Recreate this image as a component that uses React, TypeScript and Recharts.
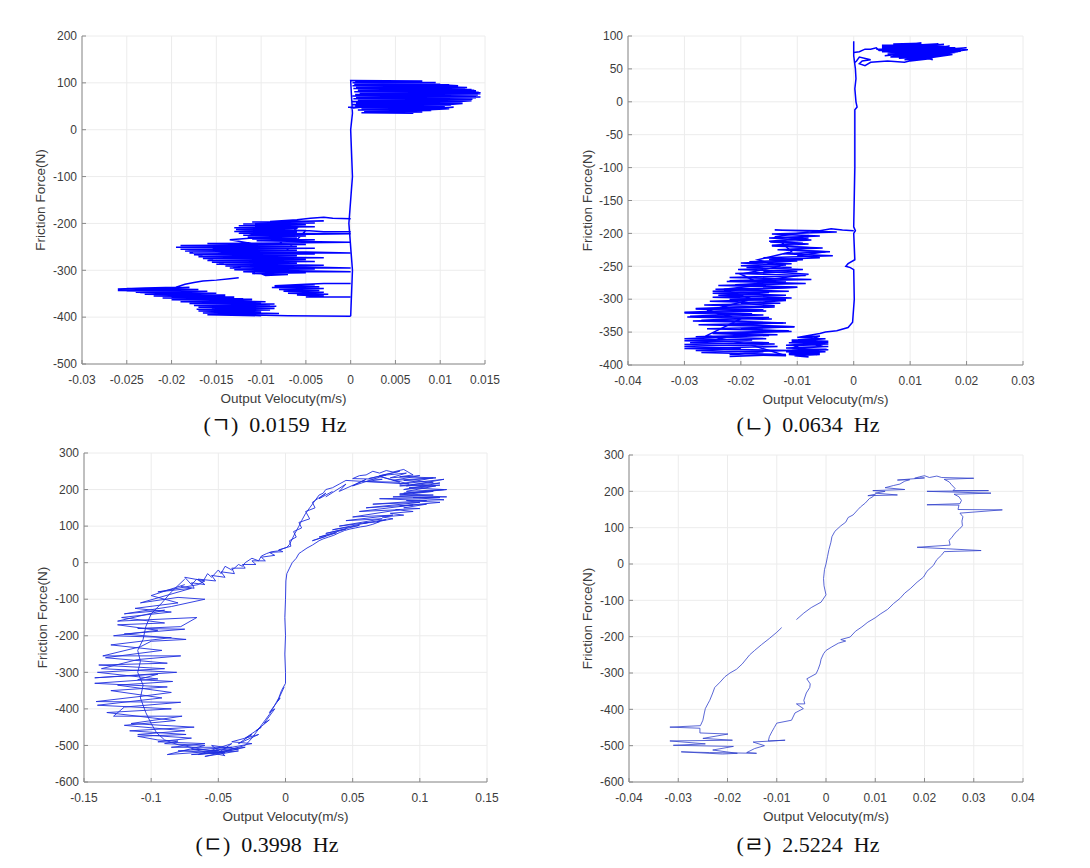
import { ScatterChart, Scatter, XAxis, YAxis, CartesianGrid } from 'recharts';

type Pt = [number, number];

// (ㄱ) 0.0159 Hz
const ticksXA = [-0.03, -0.025, -0.02, -0.015, -0.01, -0.005, 0, 0.005, 0.01, 0.015];
const ticksYA = [-500, -400, -300, -200, -100, 0, 100, 200];
const flagA: Pt[] = [
  [0, -398], [0.0002, -300], [-0.0002, -200], [0.0002, -100], [0, 0], [0.0002, 35], [0, 105],
  [0.008, 104], [0.0005, 103], [0.0095, 101], [0.0002, 100], [0.007, 99], [0.0004, 97], [0.011, 96],
  [0.0002, 94], [0.012, 92], [0.0006, 91], [0.0128, 89], [0.0003, 88], [0.0135, 86], [0.0008, 84],
  [0.014, 83], [0.0004, 81], [0.0143, 80], [0.001, 78], [0.0145, 77], [0.0005, 75], [0.0142, 74],
  [0.0002, 72], [0.0145, 70], [0.0006, 69], [0.014, 68], [0.0003, 66], [0.0136, 65], [0.0008, 63],
  [0.013, 62], [0.0002, 60], [0.0125, 59], [0.0006, 57], [0.0118, 56], [0.0001, 54], [0.0112, 53],
  [0.0005, 51], [0.0105, 50], [-0.0003, 48], [0.01, 47], [0.0012, 45], [0.0095, 44], [0.0008, 42],
  [0.009, 41], [0.0015, 39], [0.008, 38], [0.0012, 36], [0.007, 35], [0.002, 37], [0.0115, 48],
  [0.003, 42], [0.0125, 56], [0.004, 50], [0.0135, 62], [0.0045, 58], [0.014, 72], [0.005, 66],
  [0.0145, 79], [0.0055, 75], [0.0138, 84], [0.005, 88], [0.013, 90], [0.0045, 95], [0.012, 94],
  [0.006, 100], [0.01, 97], [0.005, 92], [0.0128, 80], [0.006, 70], [0.0133, 70], [0.0065, 60],
  [0.012, 64], [0.007, 52], [0.011, 45], [0.006, 40], [0.0115, 66], [0.0075, 82], [0.0125, 76],
  [0.008, 88], [0.0105, 86], [0.0085, 72], [0.0135, 77], [0.009, 62], [0.0125, 70], [0, 45],
];
const upperBandA: Pt[] = [
  [0, -190], [-0.002, -189], [-0.003, -187], [-0.0045, -189], [-0.006, -192], [-0.009, -196],
  [-0.003, -195], [-0.011, -197], [-0.004, -199], [-0.012, -201], [-0.005, -203], [-0.0125, -205],
  [-0.004, -207], [-0.013, -209], [-0.006, -211], [-0.0128, -213], [-0.005, -215], [-0.013, -217],
  [-0.006, -219], [-0.0125, -221], [0, -222], [-0.012, -225], [-0.005, -227], [-0.0115, -229],
  [-0.006, -231], [-0.011, -233], [-0.004, -235], [-0.0105, -237], [0, -240], [-0.008, -242],
  [-0.016, -243], [-0.005, -245], [-0.019, -247], [-0.006, -249], [-0.0195, -251], [-0.004, -253],
  [-0.019, -255], [-0.006, -257], [-0.0185, -259], [-0.005, -261], [0, -263], [-0.018, -263],
  [-0.004, -265], [-0.0175, -267], [-0.006, -269], [-0.017, -271], [-0.003, -273], [-0.0165, -275],
  [-0.005, -277], [-0.016, -279], [-0.004, -281], [-0.0155, -283], [-0.006, -285], [-0.015, -287],
  [-0.003, -289], [-0.014, -291], [-0.005, -293], [0, -295], [-0.0135, -295], [-0.004, -297],
  [-0.013, -299], [-0.006, -301], [0, -303], [-0.012, -303], [-0.005, -305], [-0.011, -307],
  [-0.007, -309], [-0.0095, -311], [-0.011, -300], [-0.014, -288], [-0.017, -268], [-0.0185, -256],
  [-0.012, -262], [-0.016, -250], [-0.01, -246], [-0.0135, -235], [-0.009, -228], [-0.0125, -218],
  [-0.008, -216], [-0.01, -206], [-0.006, -210], [-0.0105, -285], [-0.007, -290], [-0.0115, -278],
  [-0.008, -282], [-0.0125, -270], [-0.009, -275], [-0.0135, -262], [-0.0105, -268], [-0.011, -296],
  [-0.0095, -304], [-0.005, -215], [-0.003, -218], [0, -218],
];
const lowerBandA: Pt[] = [
  [-0.0125, -316], [-0.0135, -318], [-0.015, -321], [-0.0165, -323], [-0.0175, -326],
  [-0.0185, -330], [-0.0195, -336], [-0.023, -338], [-0.026, -340], [-0.018, -337], [-0.025, -339],
  [-0.017, -341], [-0.026, -343], [-0.016, -345], [-0.024, -347], [-0.015, -349], [-0.023, -351],
  [-0.014, -353], [-0.022, -355], [-0.013, -357], [-0.021, -359], [-0.012, -361], [-0.02, -363],
  [-0.011, -365], [-0.019, -367], [-0.01, -369], [-0.018, -371], [-0.009, -373], [-0.0175, -375],
  [-0.0085, -377], [-0.017, -379], [-0.0085, -381], [-0.0172, -383], [-0.009, -385], [-0.017, -387],
  [-0.01, -389], [-0.0165, -391], [-0.009, -393], [-0.016, -395], [-0.01, -397], [-0.02, -342],
  [-0.025, -344], [-0.018, -345], [-0.0235, -348], [-0.016, -350], [-0.022, -352], [-0.014, -354],
  [-0.02, -356], [-0.013, -358], [-0.018, -360], [-0.011, -362], [-0.017, -365], [-0.0095, -367],
  [-0.0165, -370], [-0.0085, -372], [-0.016, -375], [-0.0083, -377], [-0.0155, -380], [-0.0085, -382],
  [-0.017, -384], [-0.01, -386], [-0.0165, -389], [-0.008, -392], [-0.015, -394], [-0.007, -397],
  [0, -398],
];
const blobA: Pt[] = [
  [0, -328], [-0.003, -328], [-0.005, -330], [-0.0085, -333], [-0.004, -331], [-0.0085, -334],
  [-0.0035, -335], [-0.0088, -337], [-0.003, -339], [-0.008, -341], [-0.0035, -343], [-0.0075, -345],
  [-0.003, -347], [-0.007, -349], [-0.0025, -351], [-0.006, -353], [-0.003, -355], [-0.005, -357],
  [0, -357],
];

// (ㄴ) 0.0634 Hz
const ticksXB = [-0.04, -0.03, -0.02, -0.01, 0, 0.01, 0.02, 0.03];
const ticksYB = [-400, -350, -300, -250, -200, -150, -100, -50, 0, 50, 100];
const spineB: Pt[] = [
  [0, 92], [0, 70], [0.0003, 50], [0.0004, 35], [0.0002, 20], [0.0004, 0], [0.0006, -8],
  [0.0002, -12], [0.0002, -100], [0, -190], [0.0003, -196], [0, -200], [0.0002, -240],
  [-0.001, -246], [-0.0014, -250], [-0.0006, -252], [0, -255], [0.0001, -300], [-0.0002, -335],
  [-0.001, -343], [-0.003, -348], [-0.005, -350], [-0.006, -352], [-0.01, -358], [-0.005, -360],
  [-0.011, -364], [-0.0045, -366], [-0.012, -370], [-0.0048, -372], [-0.011, -375], [-0.0045, -377],
  [-0.012, -380], [-0.006, -382], [-0.0115, -384], [-0.008, -386], [-0.01, -378], [-0.0055, -369],
  [-0.0095, -362], [-0.0065, -385], [-0.0105, -371], [-0.006, -356], [-0.01, -358], [-0.005, -360],
  [-0.011, -362], [-0.0045, -364], [-0.0115, -366], [-0.0045, -368], [-0.012, -370], [-0.0045, -372],
  [-0.012, -374], [-0.0048, -376], [-0.0118, -378], [-0.005, -380], [-0.0115, -382], [-0.006, -384],
  [-0.0105, -386], [-0.008, -388],
];
const topB: Pt[] = [
  [0, 75], [0.001, 76], [0.002, 80], [0.003, 80], [0.004, 82], [0.0045, 78], [0.012, 86],
  [0.005, 84], [0.015, 88], [0.006, 72], [0.017, 85], [0.0055, 70], [0.02, 82], [0.007, 74],
  [0.0202, 79], [0.008, 66], [0.0185, 76], [0.006, 76], [0.016, 70], [0.007, 82], [0.014, 64],
  [0.009, 86], [0.0175, 74], [0.008, 68], [0.015, 80], [0.01, 62], [0.013, 84], [0.006, 80],
  [0.004, 80], [0.016, 87], [0.005, 86], [0.017, 84], [0.005, 82], [0.018, 82], [0.0045, 78],
  [0.019, 80], [0.005, 76], [0.0202, 79], [0.006, 74], [0.019, 77], [0.006, 72], [0.018, 75],
  [0.007, 70], [0.017, 73], [0.007, 68], [0.016, 71], [0.008, 66], [0.015, 69], [0.009, 64],
  [0.014, 67], [0.01, 62], [0.013, 65], [0.008, 85], [0.015, 86], [0.007, 88], [0.012, 89],
  [0.006, 84], [0.017, 81], [0.0055, 79], [0.0185, 78], [0.006, 75], [0.0175, 72],
  [0.012, 65], [0.0075, 78], [0.016, 82], [0.0065, 68], [0.0145, 72], [0.009, 60], [0.006, 62],
  [0.003, 60], [0.002, 55], [0.001, 58], [0.0015, 62], [0.003, 64], [0.001, 68], [0.0005, 62],
  [0.0002, 60],
];
const bandB: Pt[] = [
  [0, -196], [-0.002, -195], [-0.004, -193], [-0.006, -196], [-0.014, -195], [-0.003, -198],
  [-0.0145, -201], [-0.006, -204], [-0.015, -207], [-0.0075, -210], [-0.0148, -213], [-0.008, -216],
  [-0.0145, -219], [-0.0055, -222], [-0.0135, -225], [-0.0042, -228], [-0.0125, -231], [-0.0037, -234],
  [-0.016, -237], [-0.009, -240], [-0.0185, -243], [-0.011, -246], [-0.02, -249], [-0.011, -252],
  [-0.0205, -255], [-0.01, -258], [-0.021, -261], [-0.0085, -264], [-0.022, -267], [-0.0075, -270],
  [-0.0225, -273], [-0.0085, -276], [-0.024, -279], [-0.01, -282], [-0.0245, -285], [-0.0115, -288],
  [-0.025, -291], [-0.012, -294], [-0.025, -297], [-0.012, -300], [-0.0255, -303], [-0.013, -306],
  [-0.0265, -309], [-0.014, -312], [-0.028, -315], [-0.0155, -318], [-0.03, -321], [-0.016, -324],
  [-0.0295, -327], [-0.0145, -330], [-0.0285, -333], [-0.0125, -336], [-0.0275, -339], [-0.0105, -342],
  [-0.026, -345], [-0.0115, -348], [-0.025, -351], [-0.0135, -354], [-0.028, -357], [-0.0155, -360],
  [-0.03, -363], [-0.015, -366], [-0.03, -369], [-0.0135, -372], [-0.03, -375], [-0.011, -378],
  [-0.027, -381], [-0.012, -384], [-0.022, -387],
];
const crossB: Pt[] = [
  [-0.008, -198], [-0.014, -205], [-0.008, -207], [-0.015, -212], [-0.009, -215], [-0.0145, -218],
  [-0.007, -222], [-0.012, -225], [-0.005, -228], [-0.01, -234], [-0.006, -237], [-0.015, -240],
  [-0.01, -242], [-0.02, -245], [-0.012, -248], [-0.019, -252], [-0.009, -255], [-0.016, -258],
  [-0.008, -262], [-0.015, -270], [-0.022, -272], [-0.012, -274], [-0.021, -278], [-0.01, -282],
  [-0.025, -288], [-0.015, -290], [-0.024, -294], [-0.011, -298], [-0.022, -300], [-0.012, -302],
  [-0.02, -306], [-0.014, -310], [-0.028, -314], [-0.016, -316], [-0.03, -320], [-0.018, -322],
  [-0.029, -326], [-0.015, -328], [-0.027, -332], [-0.012, -336], [-0.022, -338], [-0.0105, -342],
  [-0.02, -345], [-0.011, -349], [-0.025, -352], [-0.015, -355], [-0.03, -360], [-0.018, -362],
  [-0.029, -366], [-0.014, -368], [-0.03, -372], [-0.02, -375], [-0.028, -378], [-0.016, -380],
  [-0.022, -384], [-0.012, -386], [-0.018, -370], [-0.026, -355], [-0.02, -330], [-0.026, -318],
  [-0.018, -300], [-0.023, -285], [-0.016, -278], [-0.02, -262], [-0.013, -250], [-0.017, -240],
  [-0.011, -228], [-0.013, -212], [-0.008, -203],
];

// (ㄷ) 0.3998 Hz
const ticksXC = [-0.15, -0.1, -0.05, 0, 0.05, 0.1, 0.15];
const ticksYC = [-600, -500, -400, -300, -200, -100, 0, 100, 200, 300];
const loopC: Pt[] = [
  [0, -330], [0, -300], [-0.0005, -250], [0, -200], [-0.0005, -150], [0, -100], [0.0003, -50],
  [0.001, -30], [0.003, -15], [0.005, 0], [0.008, 12], [0.01, 25], [0.012, 30], [0.016, 40],
  [0.02, 48], [0.025, 60], [0.028, 65], [0.032, 70], [0.036, 75], [0.04, 82], [0.044, 88],
  [0.048, 92], [0.052, 95], [0.056, 98], [0.06, 100], [0.065, 105], [0.07, 112], [0.058, 108],
  [0.075, 118], [0.068, 112], [0.08, 120], [0.072, 125], [0.088, 130], [0.078, 135], [0.095, 140],
  [0.082, 145], [0.1, 148], [0.088, 150], [0.105, 160], [0.085, 155], [0.115, 165], [0.09, 170],
  [0.118, 172], [0.095, 178], [0.12, 180], [0.085, 185], [0.11, 195], [0.088, 190], [0.118, 200],
  [0.092, 205], [0.115, 212], [0.085, 210], [0.11, 220], [0.088, 225], [0.112, 232], [0.085, 235],
  [0.095, 240], [0.088, 255], [0.08, 248], [0.075, 252], [0.07, 245], [0.065, 250], [0.06, 240],
  [0.055, 238], [0.05, 230], [0.072, 228], [0.06, 222], [0.085, 220], [0.07, 236], [0.092, 215],
  [0.045, 225], [0.04, 215], [0.035, 205], [0.03, 200], [0.028, 190], [0.025, 185], [0.022, 170],
  [0.02, 160], [0.018, 150], [0.015, 135], [0.012, 115], [0.01, 100], [0.007, 80], [0.005, 65],
  [0.003, 50], [0.001, 42], [-0.002, 38], [-0.006, 32], [-0.01, 30], [-0.014, 25], [-0.018, 18],
  [-0.02, 5], [-0.025, 12], [-0.03, 0], [-0.032, -10], [-0.035, -5], [-0.038, -15], [-0.04, -20],
  [-0.045, -10], [-0.048, -30], [-0.05, -20], [-0.055, -40], [-0.058, -30], [-0.062, -55],
  [-0.066, -45], [-0.07, -60], [-0.075, -40], [-0.06, -50], [-0.065, -60], [-0.095, -80],
  [-0.07, -70], [-0.108, -110], [-0.08, -95], [-0.06, -100], [-0.085, -120], [-0.12, -140],
  [-0.09, -130], [-0.125, -160], [-0.066, -150], [-0.078, -175], [-0.11, -180], [-0.075, -182],
  [-0.12, -195], [-0.074, -210], [-0.1, -215], [-0.108, -230], [-0.136, -255], [-0.078, -255],
  [-0.11, -265], [-0.137, -290], [-0.081, -300], [-0.142, -315], [-0.095, -305], [-0.11, -320],
  [-0.084, -325], [-0.125, -335], [-0.085, -355], [-0.106, -365], [-0.141, -380], [-0.078, -382],
  [-0.12, -395], [-0.128, -420], [-0.077, -420], [-0.115, -440], [-0.068, -450], [-0.116, -460],
  [-0.074, -470], [-0.11, -475], [-0.095, -485], [-0.08, -488], [-0.09, -495], [-0.06, -500],
  [-0.088, -525], [-0.05, -515], [-0.07, -510], [-0.045, -528], [-0.055, -500], [-0.035, -510],
  [-0.065, -525], [-0.04, -495], [-0.05, -520], [-0.03, -500], [-0.025, -480], [-0.02, -455],
  [-0.015, -430], [-0.012, -415], [-0.008, -390], [-0.005, -370], [-0.003, -350], [0, -330],
];
const innerC: Pt[] = [
  [-0.075, -45], [-0.085, -80], [-0.092, -110], [-0.1, -140], [-0.104, -175], [-0.106, -210],
  [-0.11, -240], [-0.108, -270], [-0.11, -300], [-0.106, -335], [-0.108, -370], [-0.104, -410],
  [-0.1, -440], [-0.096, -465], [-0.09, -485], [-0.08, -498], [-0.07, -505], [-0.06, -512],
  [-0.05, -518], [-0.04, -512],
];
const fuzzTopC: Pt[] = [
  [0.03, 180], [0.045, 215], [0.04, 195], [0.06, 228], [0.05, 210], [0.075, 240], [0.062, 230],
  [0.085, 250], [0.07, 238], [0.09, 245], [0.078, 232], [0.1, 238], [0.08, 225], [0.11, 232],
  [0.085, 215], [0.118, 228], [0.09, 210], [0.115, 218], [0.088, 200], [0.112, 210], [0.09, 195],
  [0.12, 200], [0.085, 188], [0.11, 185], [0.08, 180], [0.115, 178], [0.07, 175], [0.105, 170],
  [0.065, 160], [0.1, 165], [0.06, 150], [0.095, 158], [0.055, 140], [0.085, 145], [0.05, 125],
  [0.08, 130], [0.045, 115], [0.072, 120], [0.04, 100], [0.062, 110], [0.035, 90], [0.055, 102],
  [0.03, 80], [0.045, 92], [0.025, 70], [0.038, 82], [0.02, 60], [0.03, 72],
];
const fuzzUpperC: Pt[] = [
  [0.035, 195], [0.025, 175], [0.03, 190], [0.02, 165], [0.022, 150], [0.015, 140], [0.018, 120],
  [0.01, 110], [0.012, 95], [0.006, 85], [0.008, 70], [0.003, 60], [0.004, 45], [-0.005, 35],
  [-0.002, 30], [-0.012, 28], [-0.008, 20], [-0.018, 15], [-0.015, 5], [-0.025, 5], [-0.022, -5],
  [-0.032, -5], [-0.03, -15], [-0.04, -15], [-0.038, -30], [-0.048, -25], [-0.045, -40],
  [-0.055, -35], [-0.052, -50], [-0.065, -45], [-0.06, -60], [-0.07, -55], [-0.068, -70],
  [-0.078, -65],
];
const fuzzLeftC: Pt[] = [
  [-0.075, -60], [-0.1, -90], [-0.08, -110], [-0.112, -125], [-0.085, -135], [-0.122, -150],
  [-0.09, -165], [-0.125, -170], [-0.095, -185], [-0.128, -200], [-0.085, -205], [-0.13, -225],
  [-0.092, -240], [-0.134, -260], [-0.088, -275], [-0.139, -280], [-0.09, -290], [-0.14, -300],
  [-0.095, -318], [-0.142, -330], [-0.088, -340], [-0.13, -350], [-0.092, -370], [-0.14, -390],
  [-0.085, -400], [-0.133, -410], [-0.082, -432], [-0.12, -445], [-0.075, -460], [-0.11, -470],
  [-0.07, -480], [-0.095, -490], [-0.06, -495], [-0.085, -505], [-0.04, -505], [-0.08, -515],
  [-0.045, -520], [-0.07, -525], [-0.035, -515], [-0.06, -530], [-0.03, -505], [-0.055, -515],
  [-0.025, -495], [-0.04, -490], [-0.02, -470], [-0.035, -495], [-0.025, -470], [-0.03, -480],
  [-0.018, -450], [-0.022, -460], [-0.012, -430], [-0.016, -440], [-0.008, -400], [-0.012, -410],
  [-0.004, -370], [-0.006, -380], [-0.001, -340],
];

// (ㄹ) 2.5224 Hz
const ticksXD = [-0.04, -0.03, -0.02, -0.01, 0, 0.01, 0.02, 0.03, 0.04];
const ticksYD = [-600, -500, -400, -300, -200, -100, 0, 100, 200, 300];
const loopD: Pt[] = [
  [-0.006, -153], [-0.0045, -135], [-0.003, -120], [-0.001, -105], [0, -85], [-0.0004, -60],
  [-0.0005, -40], [-0.0003, -15], [0, 0], [0.0003, 20], [0.0006, 40], [0.001, 60], [0.0012, 75],
  [0.0018, 90], [0.003, 105], [0.004, 115], [0.0045, 128], [0.0055, 135], [0.0065, 150],
  [0.007, 157], [0.008, 168], [0.0088, 180], [0.0095, 185], [0.01, 192], [0.0085, 188],
  [0.0145, 190], [0.01, 195], [0.012, 200], [0.0095, 202], [0.016, 205], [0.012, 210],
  [0.0137, 216], [0.015, 220], [0.016, 228], [0.017, 232], [0.0145, 231], [0.02, 237], [0.018, 236],
  [0.019, 240], [0.02, 243], [0.021, 238], [0.0225, 242], [0.0235, 238], [0.03, 236], [0.024, 233],
  [0.025, 226], [0.0255, 218], [0.0262, 208], [0.0258, 202], [0.033, 202], [0.0205, 200],
  [0.0335, 195], [0.026, 192], [0.027, 185], [0.0275, 175], [0.0272, 166], [0.0205, 163],
  [0.027, 162], [0.0268, 150], [0.0358, 149], [0.0272, 140], [0.0278, 130], [0.0276, 118],
  [0.0277, 105], [0.027, 95], [0.0262, 85], [0.0256, 74], [0.025, 65], [0.0252, 52], [0.0185, 46],
  [0.0245, 42], [0.0315, 37], [0.024, 34], [0.0235, 25], [0.0225, 12], [0.0218, -4], [0.0205, -20],
  [0.0198, -36], [0.0185, -50], [0.0171, -68], [0.016, -80], [0.015, -95], [0.0137, -109],
  [0.0125, -125], [0.011, -138], [0.01, -148], [0.0085, -160], [0.0073, -173], [0.006, -185],
  [0.0049, -201], [0.003, -208], [0.004, -212], [0.0025, -218], [0.0012, -228], [0, -238],
  [-0.0005, -247], [-0.001, -262], [-0.0012, -275], [-0.0016, -290], [-0.002, -302],
  [-0.0039, -316], [-0.0032, -330], [-0.0033, -340], [-0.004, -355], [-0.0045, -375],
  [-0.0043, -385], [-0.006, -385], [-0.0046, -398], [-0.0063, -410], [-0.007, -430], [-0.01, -438],
  [-0.0105, -450], [-0.011, -462], [-0.0115, -475], [-0.0117, -487], [-0.0083, -485], [-0.0148, -490],
  [-0.0125, -500], [-0.0145, -508], [-0.0161, -519], [-0.0141, -521], [-0.0236, -519], [-0.0294, -517],
  [-0.021, -523], [-0.018, -521], [-0.023, -512], [-0.0188, -502], [-0.031, -499], [-0.0245, -495],
  [-0.0317, -487], [-0.019, -485], [-0.025, -480], [-0.0199, -468], [-0.0256, -465], [-0.0256, -452],
  [-0.0317, -449], [-0.0255, -445], [-0.025, -430], [-0.0247, -410], [-0.0245, -398], [-0.024, -385],
  [-0.0236, -375], [-0.023, -355], [-0.0226, -340], [-0.0215, -325], [-0.0205, -310], [-0.0195, -300],
  [-0.0182, -290], [-0.017, -275], [-0.0155, -250], [-0.0145, -238], [-0.0131, -222], [-0.0115, -205],
  [-0.01, -188], [-0.009, -175],
];

const toRows = (pts: Pt[]) => pts.map(([v, f]) => ({ v, f }));
const NoDot = () => <g />;

const axisColor = '#8a8a8a';
const tickStyle = { fontSize: 12, fill: '#3c3c3c', fontFamily: '"Liberation Sans", Arial, sans-serif' };
const labelStyle = { fontSize: 13.5, fill: '#3c3c3c', fontFamily: '"Liberation Sans", Arial, sans-serif', textAnchor: 'middle' as const };

interface PanelProps {
  left: number;
  top: number;
  width: number;
  height: number;
  yAxisWidth: number;
  right: number;
  yLabelX: number;
  xLabelOffset: number;
  xTicks: number[];
  yTicks: number[];
  series: Pt[][];
  stroke: string;
  strokeWidth: number;
  caption: string;
  captionX: number;
  captionY: number;
}

const Panel = (p: PanelProps) => {
  const xDomain = [p.xTicks[0], p.xTicks[p.xTicks.length - 1]];
  const yDomain = [p.yTicks[0], p.yTicks[p.yTicks.length - 1]];
  return (
    <>
      <div style={{ position: 'absolute', left: p.left, top: p.top }}>
        <ScatterChart width={p.width} height={p.height} margin={{ top: 36, right: p.right, bottom: 0, left: 0 }}>
          <CartesianGrid stroke="#ececec" />
          <XAxis
            type="number"
            dataKey="v"
            domain={xDomain}
            ticks={p.xTicks}
            allowDataOverflow
            interval={0}
            height={46}
            stroke={axisColor}
            tickSize={-4}
            tickMargin={15}
            tick={tickStyle}
            label={{ value: 'Output Velocuty(m/s)', position: 'insideBottom', offset: p.xLabelOffset, style: labelStyle }}
          />
          <XAxis
            xAxisId="top"
            orientation="top"
            type="number"
            domain={xDomain}
            ticks={p.xTicks}
            allowDataOverflow
            interval={0}
            height={0}
            stroke={axisColor}
            tickSize={-4}
            tick={false}
          />
          <YAxis
            type="number"
            dataKey="f"
            domain={yDomain}
            ticks={p.yTicks}
            allowDataOverflow
            interval={0}
            width={p.yAxisWidth}
            stroke={axisColor}
            tickSize={-4}
            tickMargin={9}
            tick={tickStyle}
            label={{ value: 'Friction Force(N)', angle: -90, position: 'insideLeft', offset: p.yLabelX, style: labelStyle }}
          />
          <YAxis
            yAxisId="right"
            orientation="right"
            type="number"
            domain={yDomain}
            ticks={p.yTicks}
            allowDataOverflow
            interval={0}
            width={0}
            stroke={axisColor}
            tickSize={-4}
            tick={false}
          />
          {p.series.map((s, i) => (
            <Scatter
              key={i}
              data={toRows(s)}
              line={{ stroke: p.stroke, strokeWidth: p.strokeWidth }}
              lineType="joint"
              shape={NoDot}
              isAnimationActive={false}
            />
          ))}
        </ScatterChart>
      </div>
      <div
        style={{
          position: 'absolute',
          left: p.captionX,
          top: p.captionY,
          transform: 'translate(-50%, -50%)',
          whiteSpace: 'pre',
          lineHeight: 1,
          fontSize: 22,
          color: '#111',
          fontFamily: '"Liberation Serif", "DejaVu Serif", "Noto Sans CJK KR", serif',
        }}
      >
        {p.caption}
      </div>
    </>
  );
};

const App = () => (
  <div style={{ position: 'absolute', left: 0, top: 0, width: 1090, height: 868, background: '#fff', overflow: 'hidden' }}>
    <Panel
      left={0} top={0} width={540} height={410} yAxisWidth={82} right={55} yLabelX={40} xLabelOffset={7}
      xTicks={ticksXA} yTicks={ticksYA} series={[flagA, upperBandA, lowerBandA, blobA]} stroke="#0000ff" strokeWidth={1.5}
      caption={'(ㄱ)  0.0159  Hz'} captionX={275} captionY={425}
    />
    <Panel
      left={545} top={0} width={533} height={411} yAxisWidth={83} right={55} yLabelX={42} xLabelOffset={7}
      xTicks={ticksXB} yTicks={ticksYB} series={[spineB, topB, bandB, crossB]} stroke="#0000ff" strokeWidth={1.5}
      caption={'(ㄴ)  0.0634  Hz'} captionX={808} captionY={425}
    />
    <Panel
      left={0} top={417} width={540} height={411} yAxisWidth={84} right={53} yLabelX={42} xLabelOffset={7}
      xTicks={ticksXC} yTicks={ticksYC} series={[loopC, innerC, fuzzTopC, fuzzUpperC, fuzzLeftC]} stroke="#1f2fe0" strokeWidth={0.9}
      caption={'(ㄷ)  0.3998  Hz'} captionX={267} captionY={845}
    />
    <Panel
      left={545} top={419} width={533} height={409} yAxisWidth={84} right={55} yLabelX={42} xLabelOffset={7}
      xTicks={ticksXD} yTicks={ticksYD} series={[loopD]} stroke="#3040cc" strokeWidth={0.8}
      caption={'(ㄹ)  2.5224  Hz'} captionX={808} captionY={845}
    />
  </div>
);

export default App;
